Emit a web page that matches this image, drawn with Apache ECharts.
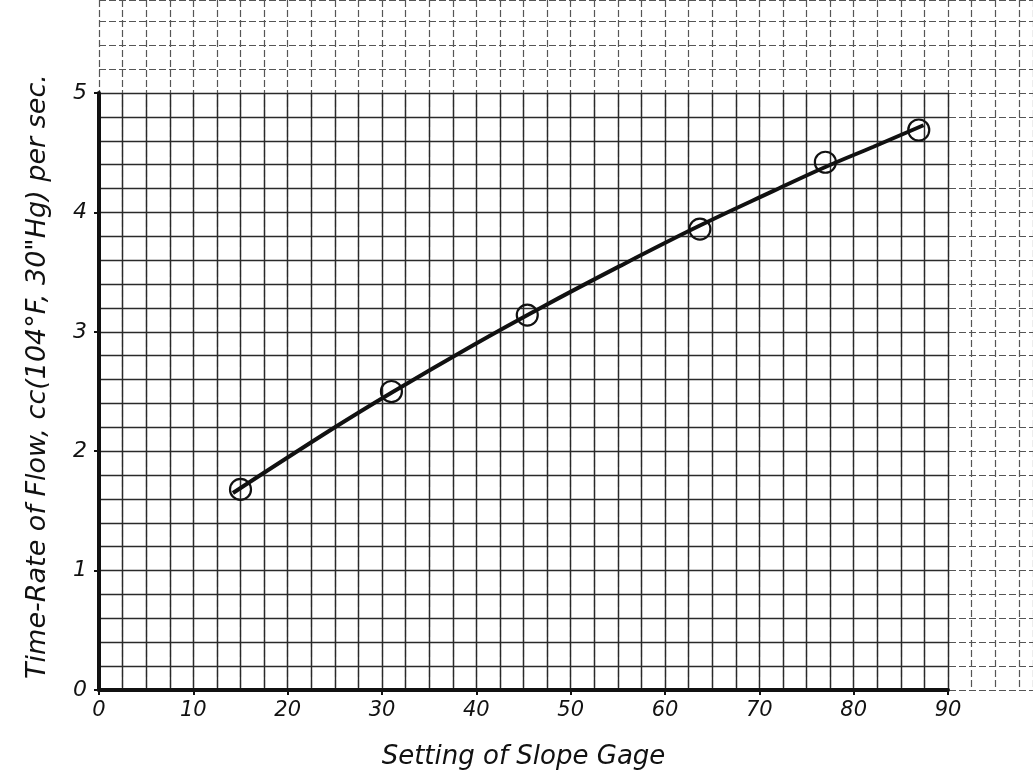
<!DOCTYPE html>
<html>
<head>
<meta charset="utf-8">
<script src="https://cdn.jsdelivr.net/npm/echarts@6/dist/echarts.min.js"></script>
<style>
  html, body { margin: 0; padding: 0; background: #fff; }
  #main { width: 1033px; height: 784px; }
</style>
</head>
<body>
<div id="main"></div>
<script>
var slopeGage = [15, 31, 45.4, 63.7, 77, 86.9];
var flowRate = [1.68, 2.5, 3.14, 3.86, 4.42, 4.69];

// hand-faired curve
var curveGage = [14.2, 24.8, 31.0, 39.7, 46.8, 55.2, 63.7, 71.5, 77.0, 82.1, 87.4];
var curveRate = [1.65, 2.19, 2.49, 2.89, 3.20, 3.55, 3.89, 4.18, 4.38, 4.55, 4.73];

var xTitle = 'Setting of Slope Gage';
var yTitle = 'Time-Rate of Flow, cc(104\u00b0F, 30"Hg) per sec.';

var points = slopeGage.map(function (x, i) { return [x, flowRate[i]]; });
var curve = curveGage.map(function (x, i) { return [x, curveRate[i]]; });

var hand = 'DejaVu Sans';
var ink = '#111';
var paper = { color: '#2a2a2a', width: 1.4 };

var chart = echarts.init(document.getElementById('main'));

chart.setOption({
    backgroundColor: '#fff',
    animation: false,
    grid: [
        // the rest of the sheet, beyond the drawn axes
        { left: 99, top: 0, right: 0, height: 690 },
        // the plotted area
        { left: 99, top: 93, width: 849, height: 597 }
    ],
    xAxis: [
        {
            gridIndex: 0, type: 'value', min: 0, max: 99, interval: 2.5,
            axisLine: { show: false }, axisTick: { show: false }, axisLabel: { show: false },
            splitLine: { show: true, lineStyle: { color: '#555', width: 1.2, type: [7, 3] } }
        },
        {
            gridIndex: 1, type: 'value', min: 0, max: 90, interval: 10,
            name: xTitle, nameLocation: 'middle', nameGap: 54,
            nameTextStyle: { fontFamily: hand, fontStyle: 'italic', fontSize: 26, color: ink },
            axisLine: { show: true, onZero: false, lineStyle: { color: ink, width: 4 } },
            axisTick: { show: true, length: 5, lineStyle: { color: ink, width: 2 } },
            axisLabel: { fontFamily: hand, fontStyle: 'italic', fontSize: 21, color: ink, margin: 10 },
            splitLine: { show: true, lineStyle: paper },
            minorTick: { show: true, splitNumber: 4, length: 0 },
            minorSplitLine: { show: true, lineStyle: paper }
        }
    ],
    yAxis: [
        {
            gridIndex: 0, type: 'value', min: 0, max: 5.78, interval: 0.2,
            axisLine: { show: false }, axisTick: { show: false }, axisLabel: { show: false },
            splitLine: { show: true, lineStyle: { color: '#555', width: 1.2, type: [7, 3] } }
        },
        {
            gridIndex: 1, type: 'value', min: 0, max: 5, interval: 1,
            name: yTitle, nameLocation: 'middle', nameGap: 48,
            nameTextStyle: { fontFamily: hand, fontStyle: 'italic', fontSize: 27, color: ink, padding: [0, 0, 0, 30] },
            axisLine: { show: true, onZero: false, lineStyle: { color: ink, width: 4 } },
            axisTick: { show: true, length: 5, lineStyle: { color: ink, width: 2 } },
            axisLabel: { fontFamily: hand, fontStyle: 'italic', fontSize: 22, color: ink, margin: 12 },
            splitLine: { show: true, lineStyle: paper },
            minorTick: { show: true, splitNumber: 5, length: 0 },
            minorSplitLine: { show: true, lineStyle: paper }
        }
    ],
    series: [
        {
            type: 'line',
            xAxisIndex: 1, yAxisIndex: 1,
            data: curve,
            smooth: 0.4,
            showSymbol: false,
            lineStyle: { color: ink, width: 4 },
            z: 3
        },
        {
            type: 'scatter',
            xAxisIndex: 1, yAxisIndex: 1,
            data: points,
            symbol: 'circle',
            symbolSize: 21,
            itemStyle: { color: 'rgba(0,0,0,0)', borderColor: ink, borderWidth: 2.2, opacity: 1 },
            z: 4
        }
    ]
});
</script>
</body>
</html>
